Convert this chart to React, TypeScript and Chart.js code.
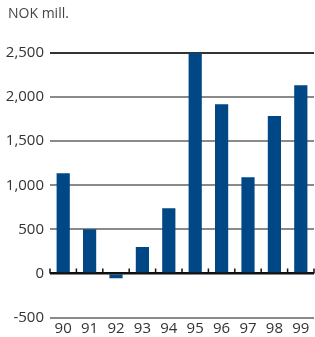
import React, { useEffect, useRef } from "react";
import { Chart, registerables } from "chart.js";

Chart.register(...registerables);

const years = ["90", "91", "92", "93", "94", "95", "96", "97", "98", "99"];
const values = [1135, 500, -55, 300, 740, 2500, 1920, 1090, 1785, 2135];
const unitLabel = "NOK mill.";
const yMin = -500;
const yMax = 2500;
const yStep = 500;

const zeroTicks = {
  id: "zeroTicks",
  afterDatasetsDraw(chart: any) {
    const x = chart.scales.x;
    const y = chart.scales.y;
    const ctx = chart.ctx;
    const y0 = y.getPixelForValue(0);
    const n = chart.data.labels.length;
    const half = (x.getPixelForValue(1) - x.getPixelForValue(0)) / 2;
    ctx.save();
    ctx.strokeStyle = "#111";
    ctx.lineWidth = 1.5;
    ctx.beginPath();
    for (let i = 0; i <= n; i++) {
      const px = x.getPixelForValue(0) - half + i * half * 2;
      ctx.moveTo(px, y0);
      ctx.lineTo(px, y0 - 5);
    }
    ctx.stroke();
    ctx.lineWidth = 2;
    ctx.beginPath();
    ctx.moveTo(chart.chartArea.left, y0);
    ctx.lineTo(chart.chartArea.right, y0);
    ctx.stroke();
    ctx.restore();
  },
};

export default function App() {
  const ref = useRef<HTMLCanvasElement>(null);
  useEffect(() => {
    if (!ref.current) return;
    const chart = new Chart(ref.current, {
      type: "bar",
      data: {
        labels: years,
        datasets: [
          {
            data: values,
            backgroundColor: "#004785",
            barPercentage: 0.5,
            categoryPercentage: 1,
          },
        ],
      },
      options: {
        animation: false,
        responsive: false,
        maintainAspectRatio: false,
        layout: { padding: { top: 53, right: 1, left: 0, bottom: 0 } },
        plugins: { legend: { display: false }, tooltip: { enabled: false } },
        scales: {
          x: {
            grid: { display: false, drawTicks: false },
            border: { display: false },
            ticks: {
              color: "#333",
              font: { family: "'Open Sans'", size: 15 },
              padding: 2,
              maxRotation: 0,
            },
            afterFit(s: any) {
              s.height = 19.5;
            },
          },
          y: {
            min: yMin,
            max: yMax,
            grid: {
              drawTicks: false,
              lineWidth: 2,
              color: (c: any) =>
                c.tick && c.tick.value === yMax
                  ? "#333"
                  : c.tick && c.tick.value === 0
                  ? "#111"
                  : "#8a8a8a",
            },
            border: { display: false },
            ticks: {
              stepSize: yStep,
              color: "#333",
              font: { family: "'Open Sans'", size: 15 },
              padding: 6,
              callback: (v: any) => Number(v).toLocaleString("en-US"),
            },
            afterFit(s: any) {
              s.width = 50;
            },
          },
        },
      },
      plugins: [zeroTicks],
    });
    return () => chart.destroy();
  }, []);
  return (
    <div style={{ position: "absolute", left: 0, top: 0, width: 315, height: 337, background: "#fff" }}>
      <div
        style={{
          position: "absolute",
          left: 8,
          top: 3,
          fontFamily: "'Open Sans'",
          fontSize: 14,
          color: "#444",
        }}
      >
        {unitLabel}
      </div>
      <canvas ref={ref} width={315} height={337} style={{ display: "block" }} />
    </div>
  );
}
